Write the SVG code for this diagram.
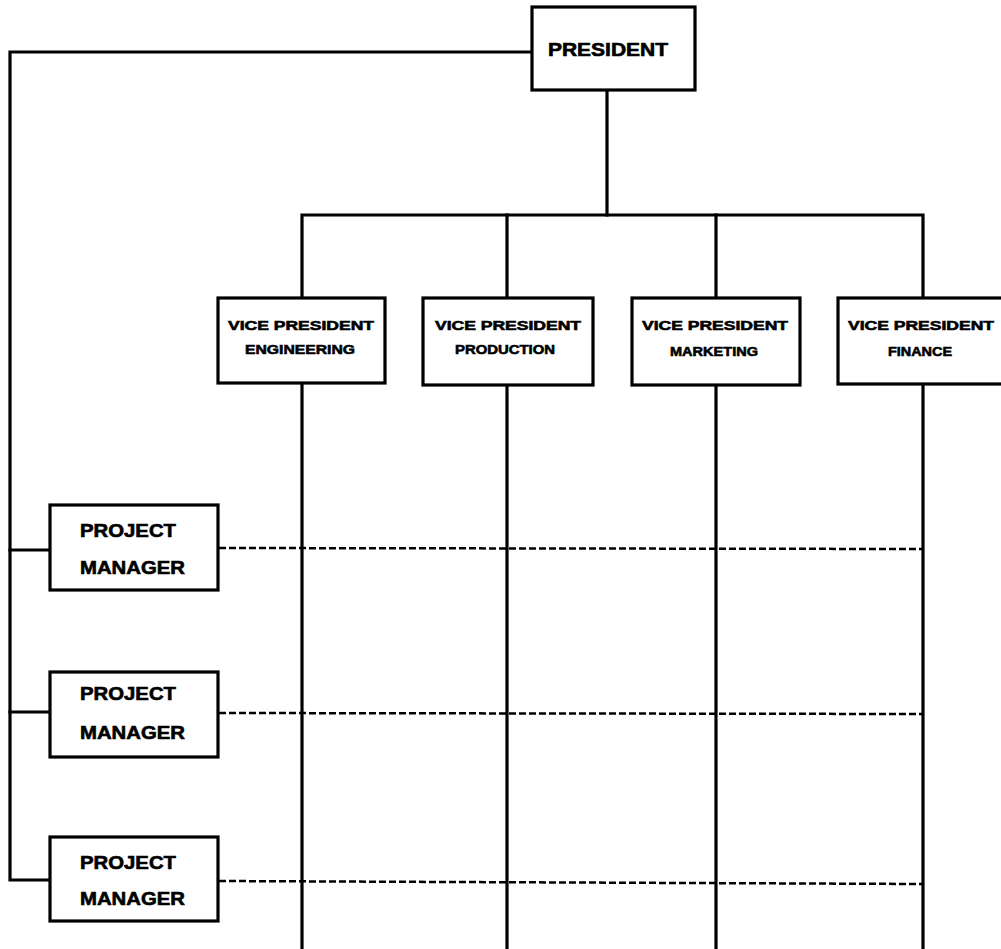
<svg xmlns="http://www.w3.org/2000/svg" width="1001" height="949" viewBox="0 0 1001 949">
<style>
.box{fill:#fff;stroke:#000;stroke-width:3.2}
.ln{fill:none;stroke:#000;stroke-width:3.2;stroke-linecap:square}
.dash{fill:none;stroke:#000;stroke-width:2.5;stroke-dasharray:7 3}
text{font-family:"Liberation Sans",Arial,sans-serif;font-weight:bold;fill:#000;stroke:#000;stroke-width:0.6}
.big{font-size:18px}
.vp{font-size:13.5px}
</style>
<rect width="1001" height="949" fill="#fff"/>
<g id="connectors">
<polyline class="ln" points="532,52 10,52 10,880 50,880"/>
<line class="ln" x1="10" y1="550" x2="50" y2="550"/>
<line class="ln" x1="10" y1="712" x2="50" y2="712"/>
<line class="ln" x1="607" y1="90" x2="607" y2="215"/>
<polyline class="ln" points="302,298 302,215 923,215 923,298"/>
<line class="ln" x1="507" y1="215" x2="507" y2="298"/>
<line class="ln" x1="716" y1="215" x2="716" y2="298"/>
<line class="ln" x1="302" y1="383" x2="302" y2="952"/>
<line class="ln" x1="507" y1="385" x2="507" y2="952"/>
<line class="ln" x1="716" y1="385" x2="716" y2="952"/>
<line class="ln" x1="923" y1="384" x2="923" y2="952"/>
<line class="dash" x1="219" y1="548" x2="923" y2="549"/>
<line class="dash" x1="219" y1="713" x2="923" y2="714"/>
<line class="dash" x1="219" y1="881" x2="923" y2="884"/>
</g>
<g id="president">
<rect class="box" x="532" y="7" width="163" height="83"/>
<text class="big" x="608" y="56" text-anchor="middle" textLength="120" lengthAdjust="spacingAndGlyphs">PRESIDENT</text>
</g>
<g id="vp-engineering">
<rect class="box" x="218" y="298" width="167" height="85"/>
<text class="vp" x="301" y="330" text-anchor="middle" textLength="146" lengthAdjust="spacingAndGlyphs">VICE  PRESIDENT</text>
<text class="vp" x="300" y="354" text-anchor="middle" textLength="110" lengthAdjust="spacingAndGlyphs">ENGINEERING</text>
</g>
<g id="vp-production">
<rect class="box" x="423" y="298" width="170" height="87"/>
<text class="vp" x="508" y="330" text-anchor="middle" textLength="146" lengthAdjust="spacingAndGlyphs">VICE  PRESIDENT</text>
<text class="vp" x="505" y="354" text-anchor="middle" textLength="100" lengthAdjust="spacingAndGlyphs">PRODUCTION</text>
</g>
<g id="vp-marketing">
<rect class="box" x="632" y="298" width="168" height="87"/>
<text class="vp" x="715" y="330" text-anchor="middle" textLength="146" lengthAdjust="spacingAndGlyphs">VICE  PRESIDENT</text>
<text class="vp" x="714" y="356" text-anchor="middle" textLength="88" lengthAdjust="spacingAndGlyphs">MARKETING</text>
</g>
<g id="vp-finance">
<rect class="box" x="838" y="298" width="170" height="86"/>
<text class="vp" x="921" y="330" text-anchor="middle" textLength="146" lengthAdjust="spacingAndGlyphs">VICE  PRESIDENT</text>
<text class="vp" x="920" y="356" text-anchor="middle" textLength="64" lengthAdjust="spacingAndGlyphs">FINANCE</text>
</g>
<g id="pm1">
<rect class="box" x="50" y="505" width="168" height="85"/>
<text class="big" x="80" y="537" textLength="96" lengthAdjust="spacingAndGlyphs">PROJECT</text>
<text class="big" x="80" y="574" textLength="105" lengthAdjust="spacingAndGlyphs">MANAGER</text>
</g>
<g id="pm2">
<rect class="box" x="50" y="672" width="168" height="85"/>
<text class="big" x="80" y="700" textLength="96" lengthAdjust="spacingAndGlyphs">PROJECT</text>
<text class="big" x="80" y="739" textLength="105" lengthAdjust="spacingAndGlyphs">MANAGER</text>
</g>
<g id="pm3">
<rect class="box" x="50" y="837" width="168" height="84"/>
<text class="big" x="80" y="869" textLength="96" lengthAdjust="spacingAndGlyphs">PROJECT</text>
<text class="big" x="80" y="905" textLength="105" lengthAdjust="spacingAndGlyphs">MANAGER</text>
</g>
</svg>
